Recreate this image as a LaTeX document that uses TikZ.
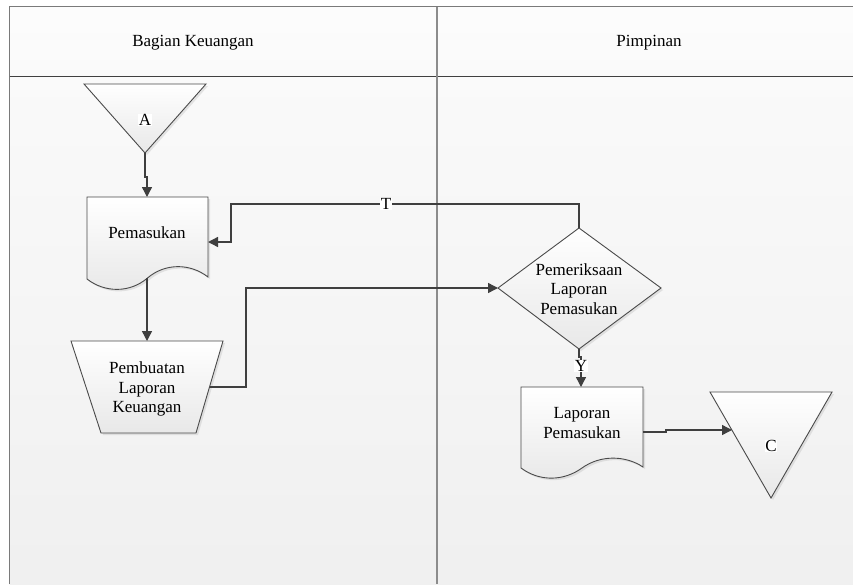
\documentclass[tikz,border=0pt]{standalone}
\usepackage{fontspec}
\setmainfont{Liberation Serif}
\usetikzlibrary{arrows.meta,shadows}
\definecolor{connline}{HTML}{3F3F3F}
\definecolor{shapeline}{HTML}{4A4A4A}
\definecolor{frameline}{HTML}{7A7A7A}
\begin{document}
\begin{tikzpicture}[x=1pt,y=-1pt,
  txt/.style={font=\fontsize{17}{19.5}\selectfont, align=center, inner sep=1pt},
  lbl/.style={font=\fontsize{17}{19.5}\selectfont, fill=white, inner sep=0.5pt},
  flowshape/.style={draw=shapeline, line width=0.9pt, top color=white, bottom color=black!9,
    drop shadow={opacity=0.18, shadow xshift=2pt, shadow yshift=-2pt}},
  conn/.style={draw=connline, line width=1.4pt, -{Triangle[length=10pt,width=10pt]}},
  plainconn/.style={draw=connline, line width=1.4pt}]
\useasboundingbox (0,0) rectangle (853,584);
% swimlane background
\fill[white] (0,0) rectangle (853,584);
\shade[top color=black!1, bottom color=black!2] (9.5,6.5) rectangle (853,76.5);
\shade[top color=black!2, bottom color=black!6] (9.5,76.5) rectangle (853,584);
\draw[frameline, line width=1.5pt] (9.5,584) -- (9.5,6.5) -- (853,6.5);
\draw[black!75, line width=1.5pt] (9.5,76.5) -- (853,76.5);
\draw[black!45, line width=2.2pt] (437,6.5) -- (437,584);
\node[txt] (laneL) at (193,43) {Bagian Keuangan};
\node[txt] (laneR) at (649,43) {Pimpinan};
% Off-page connector A
\path[flowshape] (84,84) -- (206,84) -- (145,153) -- cycle;
\node[lbl] (A) at (145,120) {A};
\coordinate (aApex) at (145,153);
% Document Pemasukan
\path[flowshape] (87,197) -- (208,197) -- (208,277)
  .. controls (190,263) and (165,263) .. (147.5,278)
  .. controls (130,293) and (105,293) .. (87,279) -- cycle;
\node[txt] (pem) at (147,233) {Pemasukan};
\coordinate (pemTop) at (147,197);
\coordinate (pemBot) at (147,278);
\coordinate (pemRight) at (208,242);
% Manual operation Pembuatan Laporan Keuangan
\path[flowshape] (71,341) -- (223,341) -- (196,433) -- (101,433) -- cycle;
\node[txt] (pemb) at (147,389) {Pembuatan\\Laporan\\Keuangan};
\coordinate (trapTop) at (147,341);
\coordinate (trapRight) at (209.5,387);
% Decision
\path[flowshape] (498,288) -- (579,228) -- (661,288) -- (579,349) -- cycle;
\node[txt] (dec) at (579,289) {Pemeriksaan\\Laporan\\Pemasukan};
\coordinate (diaLeft) at (498,288);
\coordinate (diaTop) at (579,228);
\coordinate (diaBot) at (579,349);
% Document Laporan Pemasukan
\path[flowshape] (521,387) -- (643,387) -- (643,467)
  .. controls (625,455) and (600,455) .. (582,468)
  .. controls (564,481) and (540,482) .. (521,468) -- cycle;
\node[txt] (lap) at (582,423) {Laporan\\Pemasukan};
\coordinate (lapTop) at (581,387);
\coordinate (lapRight) at (643,432);
% Off-page connector C
\path[flowshape] (710,392) -- (832,392) -- (771,498) -- cycle;
\node[lbl] (C) at (771,446) {C};
\coordinate (cLeft) at (732,430);
% connectors
\draw[conn] (aApex) -- ++(0,24) -| (pemTop);
\draw[conn] (pemBot) -- (trapTop);
\draw[conn] (trapRight) -- ++(36.5,0) |- (diaLeft);
\coordinate (tTurn) at (231,204);
\draw[conn] (diaTop) |- (tTurn) |- (pemRight);
\node[lbl] (T) at (386,204) {T};
\draw[conn] (diaBot) -- ++(0,8) -| (lapTop);
\node[lbl] (Y) at (581,366) {Y};
\draw[conn] (lapRight) -- ++(23,0) |- (cLeft);
\end{tikzpicture}
\end{document}
